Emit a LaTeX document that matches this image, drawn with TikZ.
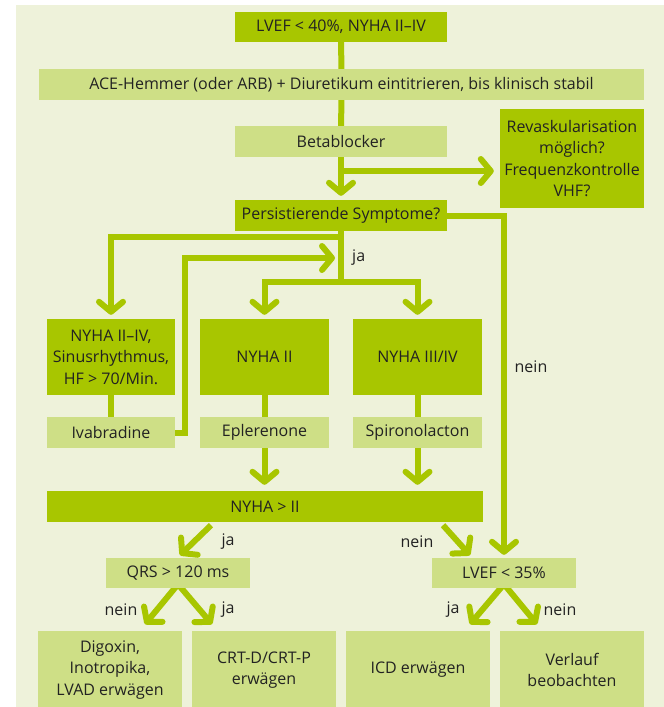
\documentclass[tikz,border=0pt]{standalone}
\usepackage{fontspec}
\setmainfont{Open Sans}
\usetikzlibrary{arrows.meta}
\definecolor{bgfill}{HTML}{EEF2DA}
\definecolor{dark}{HTML}{A8C600}
\definecolor{light}{HTML}{CEDF86}
\definecolor{ink}{HTML}{222222}
\pgfdeclarelayer{canvas}
\pgfdeclarelayer{back}
\pgfsetlayers{canvas,back,main}
\tikzset{
  box/.style={inner sep=0pt, align=center, text=ink,
    font=\fontsize{16}{21.5}\selectfont},
  darkbox/.style={box, fill=dark},
  lightbox/.style={box, fill=light},
  flow/.style={draw=dark, line width=6pt, line join=miter},
  arr/.style={flow, -{Straight Barb[length=10pt, width=24pt, round=false]}},
  lbl/.style={text=ink, font=\fontsize{16}{19}\selectfont, inner sep=0pt},
}
\begin{document}
\begin{tikzpicture}[x=1pt, y=-1pt]
  \useasboundingbox (0,0) rectangle (664,707);
  \begin{pgfonlayer}{canvas}
    \fill[bgfill] (16,5) rectangle (664,707);
  \end{pgfonlayer}

  % boxes
  \node[darkbox, minimum width=212pt, minimum height=30pt] (top) at (341,27) {LVEF < 40\%, NYHA II–IV};
  \node[lightbox, minimum width=605pt, minimum height=31pt] (ace) at (341.5,84.5) {ACE-Hemmer (oder ARB) + Diuretikum eintitrieren, bis klinisch stabil};
  \node[lightbox, minimum width=212pt, minimum height=31pt] (beta) at (341,141.5) {Betablocker};
  \node[darkbox, minimum width=144pt, minimum height=99pt] (revask) at (572,158.5) {Revaskularisation\\möglich?\\Frequenzkontrolle\\VHF?};
  \node[darkbox, minimum width=212pt, minimum height=31pt] (pers) at (341,215.5) {Persistierende Symptome?};

  \node[darkbox, minimum width=128pt, minimum height=76pt] (sinus) at (111,357) {NYHA II–IV,\\Sinusrhythmus,\\HF > 70/Min.};
  \node[darkbox, minimum width=129pt, minimum height=76pt] (nyhaII) at (264.5,357) {NYHA II};
  \node[darkbox, minimum width=129pt, minimum height=76pt] (nyhaIII) at (417.5,357) {NYHA III/IV};

  \node[lightbox, minimum width=128pt, minimum height=31pt] (ivab) at (111,432.5) {Ivabradine};
  \node[lightbox, minimum width=129pt, minimum height=31pt] (epl) at (264.5,432.5) {Eplerenone};
  \node[lightbox, minimum width=129pt, minimum height=31pt] (spiro) at (417.5,432.5) {Spironolacton};

  \node[darkbox, minimum width=436pt, minimum height=31pt] (gt) at (265,506.5) {NYHA > II};

  \node[lightbox, minimum width=144pt, minimum height=30pt] (qrs) at (178,573) {QRS > 120 ms};
  \node[lightbox, minimum width=144pt, minimum height=30pt] (ef) at (504,573) {LVEF < 35\%};

  \node[lightbox, minimum width=144pt, minimum height=78pt] (digo) at (110,670) {Digoxin,\\Inotropika,\\LVAD erwägen};
  \node[lightbox, minimum width=144pt, minimum height=78pt] (crt) at (264,670) {CRT-D/CRT-P\\erwägen};
  \node[lightbox, minimum width=144pt, minimum height=78pt] (icd) at (418,670) {ICD erwägen};
  \node[lightbox, minimum width=144pt, minimum height=78pt] (obs) at (572,670) {Verlauf\\beobachten};

  % junction points
  \coordinate (jr) at (341,171);
  \coordinate (jl) at (341,237);
  \coordinate (jm) at (341,282);
  \coordinate (fb) at (185,258);
  \coordinate (fbend) at (335,258);

  \begin{pgfonlayer}{back}
    \draw[flow] (top) -- (ace);
    \draw[flow] (ace) -- (beta);
    \draw[arr] (beta.center) -- ([yshift=4pt]pers.north);
    \draw[arr] (jr) -- ([xshift=-6pt]revask.west |- jr);
    \draw[arr] (pers.east) -| ([yshift=3pt]ef.north);
    \draw[flow] (pers.center) -- (jm);
    \draw[arr] (jl) -| ([yshift=4pt]sinus.north);
    \draw[arr] (jm) -| ([yshift=4pt]nyhaII.north);
    \draw[arr] (jm) -| ([yshift=4pt]nyhaIII.north);
    \draw[arr] (ivab.east) -| (fb) -- (fbend);
    \draw[flow] (sinus) -- (ivab);
    \draw[flow] (nyhaII) -- (epl);
    \draw[flow] (nyhaIII) -- (spiro);
    \draw[arr] (epl.center) -- ([yshift=6pt]gt.north -| epl);
    \draw[arr] (spiro.center) -- ([yshift=6pt]gt.north -| spiro);
    \draw[arr] ([xshift=-54pt, yshift=-3pt]gt.south) -- ++(-31,30);
    \draw[arr] ([xshift=178pt, yshift=-3pt]gt.south) -- ++(27,30);
    \draw[arr] ([yshift=4pt]qrs.south) -- ++(-33,40);
    \draw[arr] ([yshift=4pt]qrs.south) -- ++(34,40);
    \draw[arr] ([yshift=4pt]ef.south) -- ++(-34,40);
    \draw[arr] ([yshift=4pt]ef.south) -- ++(33,40);
  \end{pgfonlayer}

  % branch labels
  \node[lbl, anchor=west] (lja1) at (352,258) {ja};
  \node[lbl] (lnein1) at (531,367) {nein};
  \node[lbl] (lja2) at (228,542) {ja};
  \node[lbl] (lnein2) at (417,542) {nein};
  \node[lbl] (lnein3) at (121,610) {nein};
  \node[lbl] (lja3) at (228,610) {ja};
  \node[lbl] (lja4) at (453,610) {ja};
  \node[lbl] (lnein4) at (560,610) {nein};
\end{tikzpicture}
\end{document}
